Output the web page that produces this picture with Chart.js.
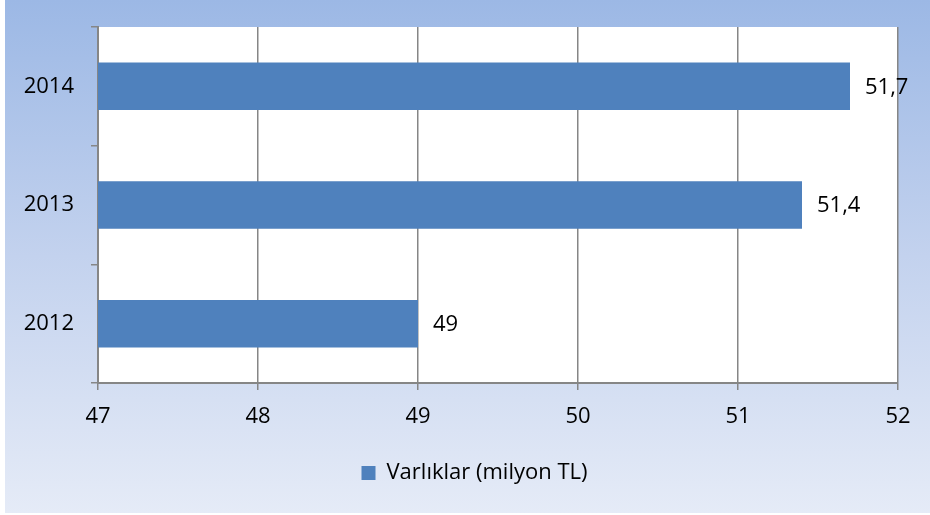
<!DOCTYPE html>
<html>
<head>
<meta charset="utf-8">
<script src="https://cdn.jsdelivr.net/npm/chart.js@4"></script>
<style>
  html, body { margin: 0; padding: 0; background: #fff; }
  #cadre {
    position: absolute; left: 5px; top: 0; width: 925px; height: 513px;
    background: linear-gradient(to bottom, #9cb8e5 0%, #c3d2ee 50%, #e5ebf7 100%);
  }
</style>
</head>
<body>
<div id="cadre"><canvas id="graphique" width="925" height="513"></canvas></div>
<script>
// Données du graphique
const annees = ["2014", "2013", "2012"];
const varliklar = [51.7, 51.4, 49];
const graduations = [47, 48, 49, 50, 51, 52];
const libelleSerie = "Varlıklar (milyon TL)";

const police = "'Open Sans', 'Liberation Sans', sans-serif";
const gris = "#868686";

// Fond blanc de la zone de tracé + décalage de la légende
const fondZone = {
  id: "fondZone",
  afterLayout(chart) {
    chart.legend.left += 46;
  },
  beforeDraw(chart) {
    const { ctx, chartArea: a } = chart;
    ctx.save();
    ctx.fillStyle = "#ffffff";
    ctx.fillRect(a.left, a.top, a.right - a.left, a.bottom - a.top);
    ctx.restore();
  }
};

// Valeurs au bout des barres
const etiquettes = {
  id: "etiquettes",
  afterDatasetsDraw(chart) {
    const { ctx } = chart;
    const meta = chart.getDatasetMeta(0);
    ctx.save();
    ctx.font = "22px " + police;
    ctx.fillStyle = "#000";
    ctx.textBaseline = "middle";
    ctx.textAlign = "left";
    meta.data.forEach((barre, i) => {
      const txt = String(varliklar[i]).replace(".", ",");
      ctx.fillText(txt, barre.x + 15, barre.y + 1);
    });
    ctx.restore();
  }
};

new Chart(document.getElementById("graphique"), {
  type: "bar",
  data: {
    labels: annees,
    datasets: [{
      label: libelleSerie,
      data: varliklar,
      backgroundColor: "#4f81bd",
      borderWidth: 0,
      barPercentage: 0.4,
      categoryPercentage: 1
    }]
  },
  options: {
    indexAxis: "y",
    responsive: false,
    animation: false,
    layout: {
      padding: { top: 27, right: 32, left: 0, bottom: 19 }
    },
    scales: {
      x: {
        min: 47,
        max: 52,
        afterBuildTicks: s => { s.ticks = graduations.map(v => ({ value: v })); },
        grid: { color: gris, lineWidth: 1.5, tickLength: 7, tickColor: gris },
        border: { color: gris, width: 2 },
        ticks: { color: "#000", padding: 14, font: { family: police, size: 22 } },
        afterFit: s => { s.height = 69; }
      },
      y: {
        grid: { drawOnChartArea: false, tickLength: 7, lineWidth: 1.5, color: gris, offset: true },
        border: { color: gris, width: 2 },
        ticks: { color: "#000", padding: 17, font: { family: police, size: 22 } },
        afterFit: s => { s.width = 93; s.paddingTop = 0; s.paddingBottom = 0; }
      }
    },
    plugins: {
      legend: {
        position: "bottom",
        labels: {
          boxWidth: 14,
          boxHeight: 14,
          padding: 10,
          color: "#000",
          font: { family: police, size: 22 }
        }
      },
      tooltip: { enabled: false }
    }
  },
  plugins: [fondZone, etiquettes]
});
</script>
</body>
</html>
